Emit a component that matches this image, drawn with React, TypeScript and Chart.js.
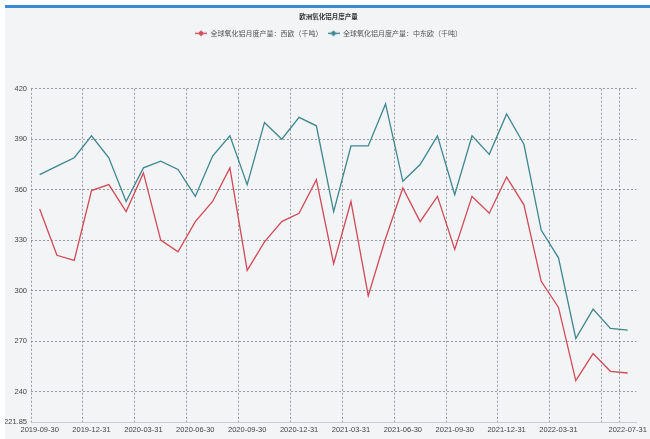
import React, { useEffect, useRef } from 'react';
import { Chart, registerables } from 'chart.js';

Chart.register(...registerables);

const TITLE = '欧洲氧化铝月度产量';
const SERIES_NAMES = ['全球氧化铝月度产量：西欧（千吨）', '全球氧化铝月度产量：中东欧（千吨）'];
const SERIES_COLORS = ['#d04a58', '#3e8690'];

const MONTHS = [
  '2019-09-30', '2019-10-31', '2019-11-30', '2019-12-31',
  '2020-01-31', '2020-02-29', '2020-03-31', '2020-04-30', '2020-05-31', '2020-06-30',
  '2020-07-31', '2020-08-31', '2020-09-30', '2020-10-31', '2020-11-30', '2020-12-31',
  '2021-01-31', '2021-02-28', '2021-03-31', '2021-04-30', '2021-05-31', '2021-06-30',
  '2021-07-31', '2021-08-31', '2021-09-30', '2021-10-31', '2021-11-30', '2021-12-31',
  '2022-01-31', '2022-02-28', '2022-03-31', '2022-04-30', '2022-05-31', '2022-06-30',
  '2022-07-31',
];

const WEST_EUROPE = [
  348.5, 321, 318, 359.5, 363, 347, 370, 330, 323, 341, 353, 373,
  312, 329, 341, 346, 366, 316, 353, 297, 331, 361, 341, 356,
  324.5, 356, 346, 367.5, 351, 305.5, 290, 246.5, 262.5, 252, 251,
];

const CENTRAL_EAST_EUROPE = [
  369, 374, 379, 392, 379, 353, 373, 377, 372, 356, 380, 392,
  363, 400, 390, 403, 398, 347, 386, 386, 411, 365, 375, 392,
  357, 392, 381, 405, 387, 336, 319.5, 271.5, 289, 277.5, 276.5,
];

// every third month is labelled, plus the last one; the 2022-06-30 label is hidden (overlap)
const X_LABEL_STEP = 3;
const X_HIDDEN_LABELS = ['2022-06-30'];

const Y_MIN = 221.85;
const Y_MAX = 420;
const Y_TICKS = [221.85, 240, 270, 300, 330, 360, 390, 420];

const LEGEND_GAP = 42;
const HEADER_SHIFT = 6;
const TICK_FONT = { family: '"Liberation Sans", Arial, sans-serif', size: 7.5 };
const CJK_FONT = '"Noto Sans CJK SC", "Noto Sans", sans-serif';
const GRID_COLOR = 'rgba(110,115,125,0.7)';

function makeLegendMarker(color: string) {
  const c = document.createElement('canvas');
  c.width = 12;
  c.height = 7;
  const ctx = c.getContext('2d')!;
  ctx.strokeStyle = color;
  ctx.lineWidth = 1.4;
  ctx.beginPath();
  ctx.moveTo(0, 3.5);
  ctx.lineTo(12, 3.5);
  ctx.stroke();
  ctx.fillStyle = color;
  ctx.beginPath();
  ctx.moveTo(6, 0.5);
  ctx.lineTo(9, 3.5);
  ctx.lineTo(6, 6.5);
  ctx.lineTo(3, 3.5);
  ctx.closePath();
  ctx.fill();
  return c;
}

const headerLayout = {
  id: 'headerLayout',
  beforeInit(chart: any) {
    const legend = chart.legend;
    if (!legend) return;
    const orig = legend.fit;
    legend.fit = function () {
      orig.call(this);
      this.height += LEGEND_GAP;
    };
  },
  afterLayout(chart: any) {
    for (const box of [chart.titleBlock, chart.legend]) {
      if (!box) continue;
      box.left += HEADER_SHIFT;
      box.right += HEADER_SHIFT;
    }
  },
};

const isLabelled = (i: number) =>
  (i % X_LABEL_STEP === 0 || i === MONTHS.length - 1) && !X_HIDDEN_LABELS.includes(MONTHS[i]);
const hasGridLine = (i: number) => i % X_LABEL_STEP === 0 || i >= MONTHS.length - 1;

export default function App() {
  const canvasRef = useRef<HTMLCanvasElement | null>(null);

  useEffect(() => {
    document.body.style.margin = '0';
    const canvas = canvasRef.current;
    if (!canvas) return;
    const markers = SERIES_COLORS.map(makeLegendMarker);
    const seriesValues = [WEST_EUROPE, CENTRAL_EAST_EUROPE];

    const chart = new Chart(canvas, {
      type: 'line',
      data: {
        labels: MONTHS,
        datasets: seriesValues.map((vals, i) => ({
          label: SERIES_NAMES[i],
          data: vals,
          borderColor: SERIES_COLORS[i],
          backgroundColor: SERIES_COLORS[i],
          borderWidth: 1.3,
          pointRadius: 0,
          tension: 0,
          fill: false,
        })),
      },
      plugins: [headerLayout],
      options: {
        animation: false,
        responsive: false,
        devicePixelRatio: 1,
        layout: { padding: { left: 5, right: 10, top: 0, bottom: 0 } },
        plugins: {
          title: {
            display: true,
            text: TITLE,
            color: '#333',
            font: { family: CJK_FONT, size: 6.5, weight: 'bold' },
            padding: { top: 13, bottom: 4 },
          },
          legend: {
            display: true,
            position: 'top',
            labels: {
              color: '#555',
              font: { family: CJK_FONT, size: 7 },
              usePointStyle: true,
              pointStyleWidth: 12,
              padding: 5,
              generateLabels: (ch: any) =>
                ch.data.datasets.map((ds: any, i: number) => ({
                  text: ds.label,
                  fillStyle: ds.borderColor,
                  strokeStyle: ds.borderColor,
                  lineWidth: 0,
                  pointStyle: markers[i],
                  fontColor: '#555',
                  hidden: false,
                  datasetIndex: i,
                })),
            },
          },
          tooltip: { enabled: false },
        },
        scales: {
          x: {
            type: 'category',
            offset: true,
            afterFit: (scale: any) => {
              scale.height = 17;
            },
            ticks: {
              autoSkip: false,
              maxRotation: 0,
              minRotation: 0,
              padding: 3,
              color: '#444',
              font: TICK_FONT,
              callback: (_value: any, index: number) => (isLabelled(index) ? MONTHS[index] : ''),
            },
            grid: {
              offset: true,
              color: (ctx: any) => (hasGridLine(ctx.index) ? GRID_COLOR : 'rgba(0,0,0,0)'),
              lineWidth: 1,
              drawTicks: false,
            },
            border: { display: true, color: '#c9cdd3', width: 1, dash: [2, 2] },
          },
          y: {
            type: 'linear',
            min: Y_MIN,
            max: Y_MAX,
            afterBuildTicks: (scale: any) => {
              scale.ticks = Y_TICKS.map((v) => ({ value: v }));
            },
            afterFit: (scale: any) => {
              scale.width = 26;
            },
            ticks: {
              padding: 4,
              color: '#444',
              font: TICK_FONT,
              callback: (value: any) => String(value),
            },
            grid: {
              color: GRID_COLOR,
              lineWidth: 1,
              drawTicks: false,
            },
            border: { display: false, dash: [2, 2] },
          },
        },
      },
    } as any);

    return () => chart.destroy();
  }, []);

  return (
    <div style={{ position: 'fixed', left: 0, top: 0, width: 650, height: 439, background: '#ffffff', overflow: 'hidden' }}>
      <div style={{ position: 'absolute', left: 5, top: 5, width: 645, height: 434, background: '#f2f4f6' }} />
      <div style={{ position: 'absolute', left: 5, top: 5, width: 645, height: 3, background: '#3a8ad4' }} />
      <canvas ref={canvasRef} width={650} height={439} style={{ position: 'absolute', left: 0, top: 0, width: 650, height: 439 }} />
    </div>
  );
}
